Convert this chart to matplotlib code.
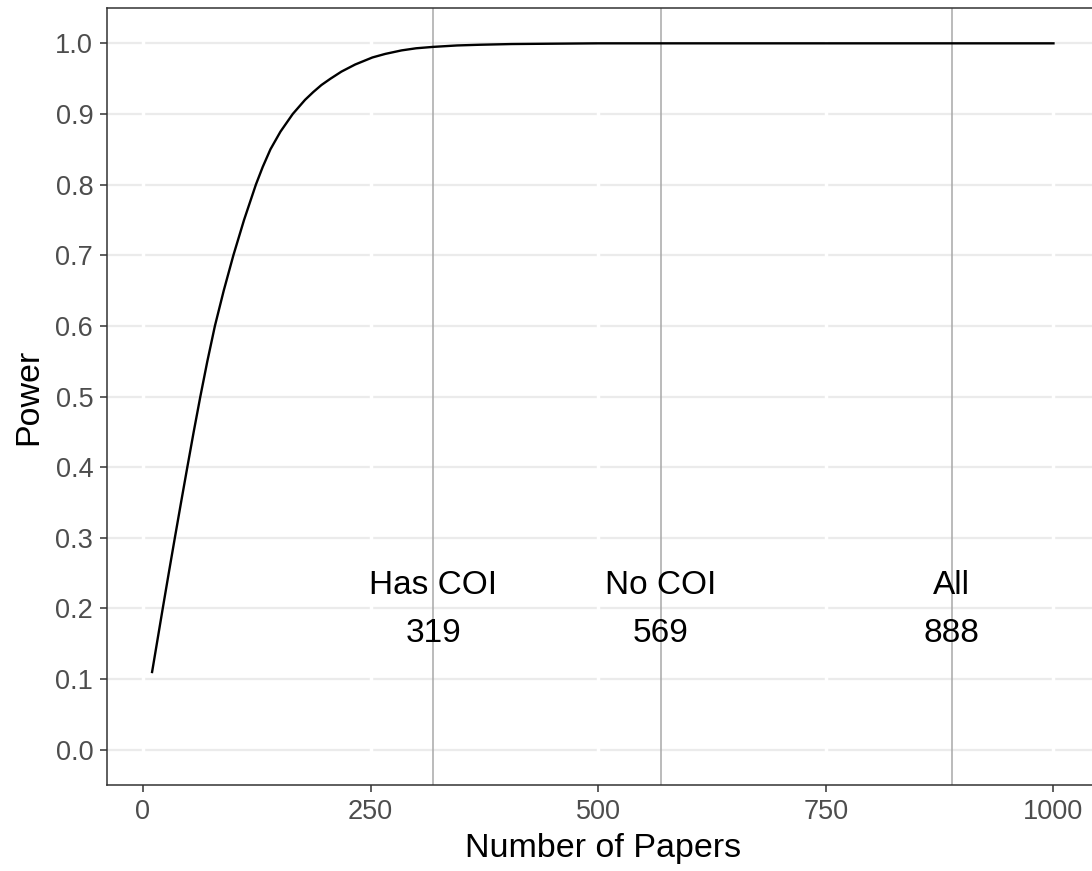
import matplotlib
matplotlib.use("Agg")
import matplotlib.pyplot as plt

# power curve
n_papers = [10, 15.2, 21.7, 28.3, 35, 41.8, 48.7, 55.7, 63, 70.7, 79, 88.7,
            99.3, 111, 124, 131.5, 140, 151, 164.5, 178, 187, 196, 206,
            218, 233, 252, 266, 284, 300, 319, 345, 370, 405, 450, 500, 600,
            1000]
power = [0.11, 0.15, 0.20, 0.25, 0.30, 0.35, 0.40, 0.45, 0.50, 0.55, 0.60,
         0.65, 0.70, 0.75, 0.80, 0.825, 0.85, 0.875, 0.90, 0.92, 0.931,
         0.941, 0.950, 0.960, 0.970, 0.980, 0.985, 0.990, 0.993, 0.995,
         0.997, 0.998, 0.999, 0.9995, 1.0, 1.0, 1.0]

group_names = ["Has COI", "No COI", "All"]
group_sizes = [319, 569, 888]

x_ticks = [0, 250, 500, 750, 1000]
y_ticks = [round(0.1 * i, 1) for i in range(11)]

plt.rcParams["font.family"] = ["Liberation Sans", "DejaVu Sans"]

fig = plt.figure(figsize=(10.92, 8.71), dpi=100)
ax = fig.add_axes([0.098, 0.0987, 0.908, 0.8921])

ax.set_xlim(-39.5, 1049.5)
ax.set_ylim(-0.05, 1.05)

# horizontal grid, white vertical grid on top (ggplot look)
for yv in y_ticks:
    ax.axhline(yv, color="#ebebeb", lw=1.6, zorder=0.5)
for xv in x_ticks:
    ax.axvline(xv, color="white", lw=2.5, zorder=0.6)

for name, size in zip(group_names, group_sizes):
    ax.axvline(size, color="#a8a8a8", lw=1.1, zorder=1)
    ax.text(size, 0.233, name, ha="center", va="center", fontsize=24, zorder=3)
    ax.text(size, 0.165, str(size), ha="center", va="center", fontsize=24,
            zorder=3)

ax.plot(n_papers, power, color="black", lw=1.7, zorder=2,
        solid_joinstyle="round")

ax.set_xticks(x_ticks)
ax.set_yticks(y_ticks)
ax.set_yticklabels([f"{v:.1f}" for v in y_ticks])
ax.tick_params(axis="both", labelsize=19.5, labelcolor="#4d4d4d",
               color="#333333", length=5, width=1.1, pad=5)

ax.set_xlabel("Number of Papers", fontsize=24.5, labelpad=6)
ax.set_ylabel("Power", fontsize=24.5, labelpad=8)

for sp in ax.spines.values():
    sp.set_color("#333333")
    sp.set_linewidth(1.1)

fig.savefig("out.png", dpi=100)
